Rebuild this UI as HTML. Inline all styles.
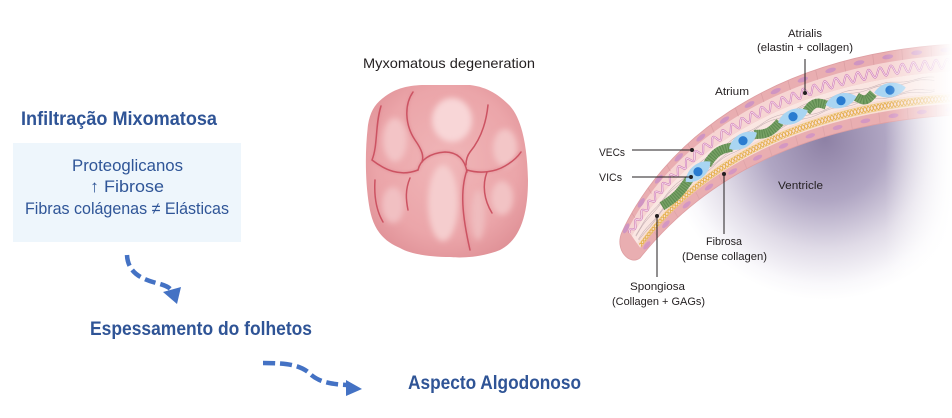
<!DOCTYPE html>
<html><head><meta charset="utf-8">
<style>
html,body{margin:0;padding:0;background:#fff;}
body{width:952px;height:418px;overflow:hidden;}
svg{display:block;}
.b{font-family:"Liberation Sans",sans-serif;font-weight:bold;fill:#2F5496;font-size:19px;}
.r{font-family:"Liberation Sans","DejaVu Sans",sans-serif;fill:#2F5597;font-size:17px;}
.l{font-family:"Liberation Sans",sans-serif;fill:#231f20;font-size:11px;}
.m{font-family:"Liberation Sans",sans-serif;fill:#231f20;font-size:14px;}
</style></head><body>
<svg id="s" width="952" height="418" viewBox="0 0 952 418" xmlns="http://www.w3.org/2000/svg">
<defs>
  <radialGradient id="vg" cx="0.5" cy="0.45" r="0.62">
    <stop offset="0" stop-color="#f0b6b8"/>
    <stop offset="0.7" stop-color="#eba5a9"/>
    <stop offset="1" stop-color="#df9096"/>
  </radialGradient>
  <filter id="bl" x="-30%" y="-30%" width="160%" height="160%"><feGaussianBlur stdDeviation="3"/></filter>
  <filter id="bl2" x="-30%" y="-30%" width="160%" height="160%"><feGaussianBlur stdDeviation="1.2"/></filter>
  <radialGradient id="vent" gradientUnits="userSpaceOnUse" cx="825" cy="140" r="160">
    <stop offset="0" stop-color="#8e81a5"/>
    <stop offset="0.38" stop-color="#b0a6c3"/>
    <stop offset="0.68" stop-color="#e0dbe7"/>
    <stop offset="0.9" stop-color="#f9f8fb"/>
    <stop offset="1" stop-color="#ffffff"/>
  </radialGradient>
  <linearGradient id="fade" x1="0" y1="0" x2="1" y2="0">
    <stop offset="0" stop-color="#fff" stop-opacity="0"/>
    <stop offset="1" stop-color="#fff" stop-opacity="1"/>
  </linearGradient>
  <clipPath id="leafclip">
    <path d="M622,232 C660,150 760,55 955,44 L955,115 C780,125 690,195 640,258 C630,266 614,250 622,232 Z"/>
  </clipPath>
</defs>

<!-- LEFT PANEL -->
<text class="b" x="21" y="125" textLength="196" lengthAdjust="spacingAndGlyphs">Infiltração Mixomatosa</text>
<rect x="13" y="143" width="228" height="99" fill="#EEF6FC"/>
<text class="r" x="72" y="171" textLength="111" lengthAdjust="spacingAndGlyphs">Proteoglicanos</text>
<text class="r" x="90" y="192" textLength="74" lengthAdjust="spacingAndGlyphs">↑ Fibrose</text>
<text class="r" x="25" y="214" textLength="204" lengthAdjust="spacingAndGlyphs">Fibras colágenas ≠ Elásticas</text>

<path d="M127,255 C128,275 145,280 160,284 C167,286 170,288 172,291" fill="none" stroke="#4472C4" stroke-width="4.5" stroke-dasharray="11 5"/>
<polygon points="163,292 181,287 177,304" fill="#4472C4"/>
<text class="b" x="90" y="335" textLength="222" lengthAdjust="spacingAndGlyphs">Espessamento do folhetos</text>

<path d="M263,363 C290,363 300,366 308,372 C316,380 325,384 347,385" fill="none" stroke="#4472C4" stroke-width="4.5" stroke-dasharray="12 5"/>
<polygon points="346,380 346,396 362,389" fill="#4472C4"/>
<text class="b" x="408" y="389" textLength="173" lengthAdjust="spacingAndGlyphs">Aspecto Algodonoso</text>

<!-- MIDDLE VALVE -->
<text class="m" x="363" y="68" textLength="172" lengthAdjust="spacingAndGlyphs">Myxomatous degeneration</text>
<path d="M383,98 C395,88 410,85 425,85 L470,85 C488,87 500,96 508,104 C520,115 527,140 528,180 C528,215 520,240 500,250 C480,258 460,258 450,257 C430,257 410,254 400,248 C380,240 372,225 369,205 C365,180 365,150 368,125 C370,112 375,104 383,98 Z" fill="url(#vg)"/>
<g filter="url(#bl)">
  <ellipse cx="452" cy="120" rx="20" ry="22" fill="#f8d6d7"/>
  <ellipse cx="443" cy="203" rx="15" ry="38" fill="#f5cdce"/>
  <ellipse cx="395" cy="140" rx="12" ry="22" fill="#f3c4c6"/>
  <ellipse cx="505" cy="148" rx="12" ry="19" fill="#f3c6c7"/>
  <ellipse cx="393" cy="205" rx="11" ry="18" fill="#f1c0c2"/>
  <ellipse cx="502" cy="198" rx="11" ry="17" fill="#f2c3c4"/>
  <ellipse cx="478" cy="215" rx="7" ry="25" fill="#efbcbe"/>
</g>
<g fill="none" stroke="#e28f97" stroke-width="3.5" opacity="0.55" filter="url(#bl2)">
  <path d="M413,92 C404,105 405,125 415,140 C422,150 424,156 422,162"/>
  <path d="M381,106 C375,125 378,145 372,160 C385,170 400,177 418,170"/>
  <path d="M418,170 C420,160 430,153 445,152 C458,152 465,160 467,172"/>
  <path d="M467,170 C460,190 462,215 470,250"/>
  <path d="M467,170 C480,174 495,172 505,166 C512,162 517,158 521,152"/>
</g>
<g fill="none" stroke="#cc5362" stroke-width="1.5" stroke-linecap="round">
  <path d="M413,92 C404,105 405,125 415,140 C422,150 424,156 422,162"/>
  <path d="M381,106 C375,125 378,145 372,160 C385,170 400,177 418,170"/>
  <path d="M418,170 C420,160 430,153 445,152 C458,152 465,160 467,172"/>
  <path d="M488,105 C486,125 480,140 470,152 C467,156 466,160 466,165"/>
  <path d="M467,170 C460,190 462,215 470,250"/>
  <path d="M467,170 C480,174 495,172 505,166 C512,162 517,158 521,152"/>
  <path d="M487,172 C482,185 484,200 492,213"/>
  <path d="M375,180 C374,195 376,210 383,222"/>
  <path d="M410,178 C405,190 406,200 408,210"/>
</g>

<!-- RIGHT: VENTRICLE + LEAFLET -->
<path d="M640,258 C690,195 780,125 955,115 L952,340 L600,340 Z" fill="url(#vent)"/>
<path d="M622,232 C660,150 760,55 955,44 L955,115 C780,125 690,195 640,258 C630,266 614,250 622,232 Z" fill="#e9aeb1" stroke="#de9ea2" stroke-width="0.8"/>
<g clip-path="url(#leafclip)">
  <path d="M627.7,229.9 C664.5,156.75 763,65.5 955,54.65 L955,71 C767.6,81.6 671.4,167.1 631.8,235.9 Z" fill="#f6d5d3"/>
  <path d="M631.8,235.9 C671.4,167.1 767.6,81.6 955,71 L955,92.3 C773.6,102.6 680.4,180.6 637.2,243.7 Z" fill="#fae6e2"/>
  <path d="M637.2,243.7 C680.4,180.6 773.6,102.6 955,92.3 L955,103.6 C776.8,113.8 685.2,187.8 640.1,247.8 Z" fill="#f8dfd4"/>
  <g id="det"></g>
</g>
<rect x="885" y="25" width="67" height="320" fill="url(#fade)"/>

<!-- labels -->
<text class="l" x="788" y="37" textLength="34" lengthAdjust="spacingAndGlyphs">Atrialis</text>
<text class="l" x="757" y="51" textLength="96" lengthAdjust="spacingAndGlyphs">(elastin + collagen)</text>
<line x1="805" y1="59" x2="805" y2="93" stroke="#231f20" stroke-width="1"/>
<circle cx="805" cy="93" r="2" fill="#231f20"/>
<text class="l" x="715" y="95" textLength="34" lengthAdjust="spacingAndGlyphs">Atrium</text>
<text class="l" x="599" y="156" textLength="26" lengthAdjust="spacingAndGlyphs">VECs</text>
<line x1="632" y1="150" x2="692" y2="150" stroke="#231f20" stroke-width="1"/>
<circle cx="692" cy="150" r="2" fill="#231f20"/>
<text class="l" x="599" y="181" textLength="23" lengthAdjust="spacingAndGlyphs">VICs</text>
<line x1="632" y1="177" x2="691" y2="177" stroke="#231f20" stroke-width="1"/>
<circle cx="691" cy="177" r="2" fill="#231f20"/>
<text class="l" x="778" y="189" textLength="45" lengthAdjust="spacingAndGlyphs">Ventricle</text>
<line x1="724" y1="174" x2="724" y2="234" stroke="#231f20" stroke-width="1"/>
<circle cx="724" cy="174" r="2" fill="#231f20"/>
<text class="l" x="706" y="245" textLength="36" lengthAdjust="spacingAndGlyphs">Fibrosa</text>
<text class="l" x="682" y="260" textLength="85" lengthAdjust="spacingAndGlyphs">(Dense collagen)</text>
<line x1="657" y1="216" x2="657" y2="277" stroke="#231f20" stroke-width="1"/>
<circle cx="657" cy="216" r="2" fill="#231f20"/>
<text class="l" x="630" y="290" textLength="55" lengthAdjust="spacingAndGlyphs">Spongiosa</text>
<text class="l" x="612" y="305" textLength="93" lengthAdjust="spacingAndGlyphs">(Collagen + GAGs)</text>
</svg>
<script>
(function(){
var NS="http://www.w3.org/2000/svg";
var g=document.getElementById('det');
var T=[[622,232],[660,150],[760,55],[955,44]], Q=[[640,258],[690,195],[780,125],[955,115]];
function b3(P,t){var u=1-t,a=u*u*u,b=3*u*u*t,c=3*u*t*t,d=t*t*t;return [a*P[0][0]+b*P[1][0]+c*P[2][0]+d*P[3][0],a*P[0][1]+b*P[1][1]+c*P[2][1]+d*P[3][1]];}
function pt(s,t){var a=b3(T,t),b=b3(Q,t);return [a[0]+(b[0]-a[0])*s,a[1]+(b[1]-a[1])*s];}
function ang(s,t){var a=pt(s,Math.max(0,t-0.003)),b=pt(s,Math.min(1,t+0.003));return Math.atan2(b[1]-a[1],b[0]-a[0])*180/Math.PI;}
function mk(tag,at){var e=document.createElementNS(NS,tag);for(var k in at)e.setAttribute(k,at[k]);g.appendChild(e);return e;}
var N=500,L=[0],prev=pt(0.5,0);
for(var i=1;i<=N;i++){var p=pt(0.5,i/N);L.push(L[i-1]+Math.hypot(p[0]-prev[0],p[1]-prev[1]));prev=p;}
var TOT=L[N];
function tA(a){var target=Math.max(0,Math.min(TOT,a));var lo=0,hi=N;while(hi-lo>1){var m=(lo+hi)>>1;if(L[m]<target)lo=m;else hi=m;}var f=(target-L[lo])/((L[hi]-L[lo])||1);return (lo+f)/N;}
function tX(s,x){var lo=0,hi=1;for(var k=0;k<40;k++){var m=(lo+hi)/2;if(pt(s,m)[0]<x)lo=m;else hi=m;}return (lo+hi)/2;}
function wpath(sf,a0,a1,step){var d='';for(var a=a0,i=0;a<=a1;a+=step,i++){var t=tA(a);var p=pt(sf(a),t);d+=(i?'L':'M')+p[0].toFixed(1)+' '+p[1].toFixed(1);}return d;}
function tpath(sf,t0,t1,n){var d='';for(var i=0;i<=n;i++){var t=t0+(t1-t0)*i/n;var p=pt(sf(t),t);d+=(i?'L':'M')+p[0].toFixed(1)+' '+p[1].toFixed(1);}return d;}
for(var a=6;a<TOT;a+=28){var t=tA(a);var p=pt(0.075,t);
  mk('ellipse',{cx:p[0].toFixed(1),cy:p[1].toFixed(1),rx:5.5,ry:2.3,fill:'#cf95c2',transform:'rotate('+ang(0.075,t).toFixed(1)+' '+p[0].toFixed(1)+' '+p[1].toFixed(1)+')'});
  var tb=tA(a+14),p1=pt(0.0,tb),p2=pt(0.15,tb);
  mk('line',{x1:p1[0],y1:p1[1],x2:p2[0],y2:p2[1],stroke:'#dba0a4','stroke-width':0.8});}
for(var a=14;a<TOT;a+=30){var t=tA(a);var p=pt(0.92,t);
  mk('ellipse',{cx:p[0].toFixed(1),cy:p[1].toFixed(1),rx:5,ry:2.2,fill:'#d497c2',transform:'rotate('+ang(0.92,t).toFixed(1)+' '+p[0].toFixed(1)+' '+p[1].toFixed(1)+')'});
  var tb=tA(a+15),p1=pt(0.84,tb),p2=pt(1,tb);
  mk('line',{x1:p1[0],y1:p1[1],x2:p2[0],y2:p2[1],stroke:'#dea4a8','stroke-width':0.8});}
var wd=wpath(function(a){return 0.27+0.065*Math.sin(2*Math.PI*a/11);},6,TOT-4,0.8);
mk('path',{d:wd,fill:'none',stroke:'#cc78b4','stroke-width':2});
mk('path',{d:wd,fill:'none',stroke:'#f6dbeb','stroke-width':0.9});
mk('path',{d:wpath(function(a){return 0.71;},8,TOT,2),fill:'none',stroke:'#eec97a','stroke-width':0.7});
mk('path',{d:wpath(function(a){return 0.81;},8,TOT,2),fill:'none',stroke:'#eec97a','stroke-width':0.7});
mk('path',{d:wpath(function(a){return 0.76+0.04*Math.sin(2*Math.PI*a/7);},8,TOT,0.7),fill:'none',stroke:'#e4ae4d','stroke-width':0.9});
mk('path',{d:wpath(function(a){return 0.76-0.04*Math.sin(2*Math.PI*a/7);},8,TOT,0.7),fill:'none',stroke:'#e4ae4d','stroke-width':0.9});
[0.45,0.48,0.61,0.64].forEach(function(sv,k){
  mk('path',{d:wpath(function(a){return sv+0.015*Math.sin(2*Math.PI*a/40+k);},10,TOT-20,2),fill:'none',stroke:'#b9a2a6','stroke-width':0.55,opacity:0.8});});
var SV=0.55, xs=[698,743,793,841,890], tsv=xs.map(function(x){return tX(SV,x);});
function seg(t0,t1,sgn){
  var d=tpath(function(t){var f=(t-t0)/(t1-t0);return SV+sgn*0.07*Math.sin(Math.PI*f);},t0,t1,20);
  mk('path',{d:d,fill:'none',stroke:'#78a266','stroke-width':9});
  mk('path',{d:d,fill:'none',stroke:'#5f8b51','stroke-width':9,'stroke-dasharray':'1.1 1.4'});
}
var dt=0.035;
seg(tX(SV,662),tsv[0]-dt,1);
for(var i=0;i<xs.length-1;i++){seg(tsv[i]+dt,tsv[i+1]-dt,(i%2?1:-1));}
for(var i=0;i<xs.length;i++){var t=tsv[i],p=pt(SV,t),an=ang(SV,t);
  mk('path',{d:'M-16,0 C-8,-9.5 8,-9.5 16,0 C8,9.5 -8,9.5 -16,0Z',fill:'#a9d5f2',transform:'translate('+p[0].toFixed(1)+' '+p[1].toFixed(1)+') rotate('+an.toFixed(1)+')'});
  mk('circle',{cx:p[0].toFixed(1),cy:p[1].toFixed(1),r:4.6,fill:'#2a7cd0'});}
})();
</script>
</body></html>
